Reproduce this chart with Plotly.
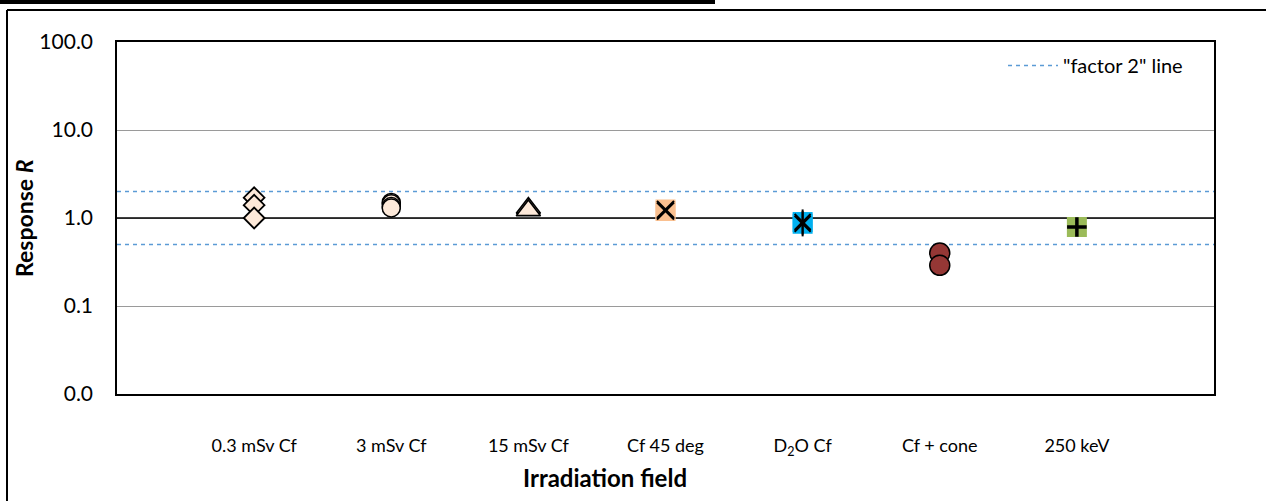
import plotly.graph_objects as go

# ---------------- data ----------------
categories = ["0.3 mSv Cf", "3 mSv Cf", "15 mSv Cf", "Cf 45 deg",
              "D<sub>2</sub>O Cf", "Cf + cone", "250 keV"]
cat_pos = [1, 2, 3, 4, 5, 6, 7]

resp_03msv = [1.7, 1.4, 1.0]
resp_3msv = [1.5, 1.45, 1.35, 1.3]
resp_15msv = [1.3, 1.22]
resp_cf45 = [1.25, 1.2]
resp_d2o = [0.9, 0.86]
resp_cone = [0.40, 0.29]
resp_250kev = [0.79]

unity = 1.0
factor2 = [2.0, 0.5]

ytick_vals = [0.01, 0.1, 1, 10, 100]
ytick_text = ["0.0", "0.1", "1.0", "10.0", "100.0"]

FONT = "Lato"
PEACH = "#FDE9D9"

fig = go.Figure()

def pts(i, vals):
    return [cat_pos[i]] * len(vals), vals

# factor 2 lines (legend entry)
fig.add_trace(go.Scatter(
    x=[0, 8, None, 0, 8], y=[factor2[0], factor2[0], None, factor2[1], factor2[1]],
    mode="lines", name='"factor 2" line',
    line=dict(color="#5B9BD5", width=1.5, dash="4px,4px"), showlegend=True))

# unity line
fig.add_trace(go.Scatter(x=[0, 8], y=[unity, unity], mode="lines",
                         line=dict(color="black", width=1.5), showlegend=False))

x, y = pts(0, resp_03msv)
fig.add_trace(go.Scatter(x=x, y=y, mode="markers", showlegend=False,
                         marker=dict(symbol="diamond", size=16, color=PEACH,
                                     line=dict(color="black", width=1.8))))
x, y = pts(1, resp_3msv)
fig.add_trace(go.Scatter(x=x, y=y, mode="markers", showlegend=False,
                         marker=dict(symbol="circle", size=18, color=PEACH,
                                     line=dict(color="black", width=1.5))))
x, y = pts(2, resp_15msv)
fig.add_trace(go.Scatter(x=x, y=y, mode="markers", showlegend=False,
                         marker=dict(symbol="triangle-up", size=21, color=PEACH,
                                     line=dict(color="black", width=1.6))))
x, y = pts(3, resp_cf45)
fig.add_trace(go.Scatter(x=x, y=y, mode="markers", showlegend=False,
                         marker=dict(symbol="square", size=20, color="#FAC090",
                                     line=dict(width=0))))
fig.add_trace(go.Scatter(x=x, y=y, mode="markers", showlegend=False,
                         marker=dict(symbol="x-thin", size=17,
                                     line=dict(color="black", width=2))))
x, y = pts(4, resp_d2o)
fig.add_trace(go.Scatter(x=x, y=y, mode="markers", showlegend=False,
                         marker=dict(symbol="square", size=20, color="#00B0F0",
                                     line=dict(width=0))))
fig.add_trace(go.Scatter(x=x, y=y, mode="markers", showlegend=False,
                         marker=dict(symbol="x-thin", size=16,
                                     line=dict(color="black", width=2))))
fig.add_trace(go.Scatter(x=x, y=y, mode="markers", showlegend=False,
                         marker=dict(symbol="line-ns", size=18,
                                     line=dict(color="black", width=2))))
x, y = pts(5, resp_cone)
fig.add_trace(go.Scatter(x=x, y=y, mode="markers", showlegend=False,
                         marker=dict(symbol="circle", size=20, color="#953735",
                                     line=dict(color="black", width=1.5))))
x, y = pts(6, resp_250kev)
fig.add_trace(go.Scatter(x=x, y=y, mode="markers", showlegend=False,
                         marker=dict(symbol="square", size=20, color="#9BBB59",
                                     line=dict(width=0))))
fig.add_trace(go.Scatter(x=x, y=y, mode="markers", showlegend=False,
                         marker=dict(symbol="cross-thin", size=14,
                                     line=dict(color="black", width=3.5))))

W, H = 1266, 501
L, R, T, B = 117, 1214, 42, 394

def px_x(p):
    return (p - L) / (R - L)

def px_y(p):
    return (B - p) / (B - T)

shapes = [
    # outer chart border (top and left)
    dict(type="line", xref="paper", yref="paper", x0=px_x(7), x1=px_x(1270),
         y0=px_y(10), y1=px_y(10), line=dict(color="black", width=2)),
    dict(type="line", xref="paper", yref="paper", x0=px_x(7), x1=px_x(7),
         y0=px_y(10), y1=px_y(510), line=dict(color="black", width=2)),
    # top black bar
    dict(type="rect", xref="paper", yref="paper", x0=px_x(-5), x1=px_x(715),
         y0=px_y(-5), y1=px_y(4), fillcolor="black", line=dict(width=0)),
]

fig.update_layout(
    width=W, height=H,
    margin=dict(l=L, r=W - R, t=T, b=H - B),
    paper_bgcolor="white", plot_bgcolor="white",
    font=dict(family=FONT, color="black"),
    shapes=shapes,
    showlegend=True,
    legend=dict(x=px_x(1188), xanchor="right", y=px_y(46), yanchor="top",
                bgcolor="rgba(0,0,0,0)", font=dict(size=20, family=FONT),
                itemwidth=50),
    annotations=[
        dict(text="<b>Irradiation field</b>", xref="paper", yref="paper",
             x=px_x(605), y=px_y(477), showarrow=False,
             font=dict(size=24, family=FONT), xanchor="center", yanchor="middle"),
        dict(text="<b>Response <i>R</i></b>", xref="paper", yref="paper",
             x=px_x(24), y=px_y(218), showarrow=False, textangle=-90,
             font=dict(size=23, family=FONT), xanchor="center", yanchor="middle"),
    ],
)

fig.update_xaxes(
    range=[0, 8], tickvals=cat_pos, ticktext=categories,
    tickfont=dict(size=18, family=FONT), ticks="", ticklabelstandoff=35,
    showgrid=False, zeroline=False,
    showline=True, linecolor="black", linewidth=1.5, mirror=True,
)
fig.update_yaxes(
    type="log", range=[-2, 2], tickvals=ytick_vals, ticktext=ytick_text,
    tickfont=dict(size=21, family=FONT), ticks="", ticklabelstandoff=18,
    showgrid=True, gridcolor="#9A9A9A", gridwidth=1.2, zeroline=False,
    showline=True, linecolor="black", linewidth=1.5, mirror=True,
)

fig.write_html("out.html")
